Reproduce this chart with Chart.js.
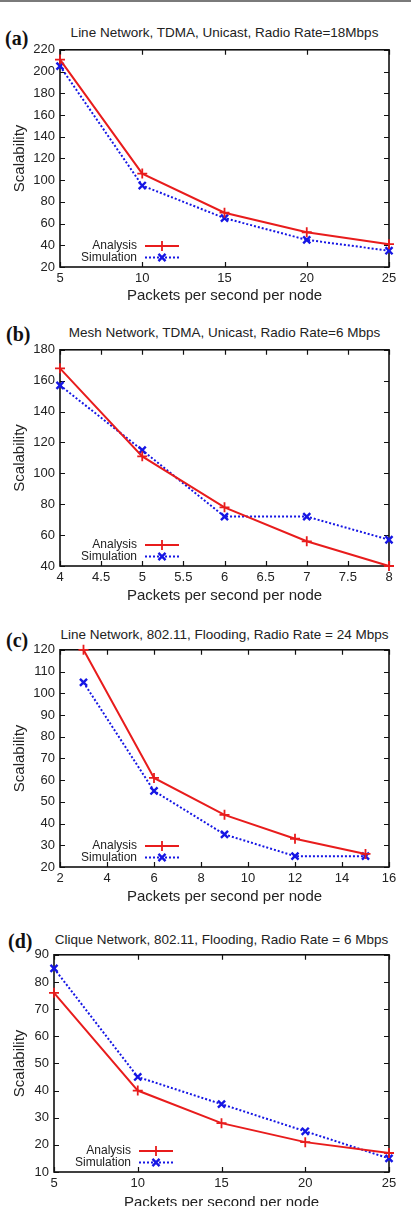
<!DOCTYPE html>
<html>
<head>
<meta charset="utf-8">
<script src="https://cdn.jsdelivr.net/npm/chart.js@4.4.1/dist/chart.umd.min.js"></script>
<style>
body { margin: 0; width: 411px; height: 1206px; overflow: hidden; background: #fff; position: relative; }
.rule { position: absolute; left: 0; top: 0; width: 411px; height: 2px; background: #7a7a7a; }
.tag { position: absolute; font-family: 'Liberation Serif', 'Times New Roman', serif; font-weight: bold; font-size: 20px; line-height: 20px; color: #111; }
.ttl { position: absolute; font-family: 'Liberation Sans', Arial, sans-serif; font-size: 13.5px; line-height: 16px; color: #222; white-space: nowrap; transform: translateX(-50%); }
canvas { position: absolute; left: 0; }
</style>
</head>
<body>
<div class="rule"></div>
<script>
// panel titles and tags
const titles = ["Line Network, TDMA, Unicast, Radio Rate=18Mbps",
    "Mesh Network, TDMA, Unicast, Radio Rate=6 Mbps",
    "Line Network, 802.11, Flooding, Radio Rate = 24 Mbps",
    "Clique Network, 802.11, Flooding, Radio Rate = 6 Mbps"];
const tags = ["(a)", "(b)", "(c)", "(d)"];

// (a)
const rateA = [5, 10, 15, 20, 25];
const analysisA = [211, 106, 70, 52, 41];
const simulationA = [205, 95, 65, 45, 35];
const xTicksA = [5, 25, 5];
const yTicksA = [20, 220, 20];

// (b)
const rateB = [4, 5, 6, 7, 8];
const analysisB = [168, 111, 78, 56, 40];
const simulationB = [157, 115, 72, 72, 57];
const xTicksB = [4, 8, 0.5];
const yTicksB = [40, 180, 20];

// (c)
const rateC = [3, 6, 9, 12, 15];
const analysisC = [120, 61, 44, 33, 26];
const simulationC = [105, 55, 35, 25, 25];
const xTicksC = [2, 16, 2];
const yTicksC = [20, 120, 10];

// (d)
const rateD = [5, 10, 15, 20, 25];
const analysisD = [76, 40, 28, 21, 17];
const simulationD = [85, 45, 35, 25, 15];
const xTicksD = [5, 25, 5];
const yTicksD = [10, 90, 10];

const seriesNames = ["Analysis", "Simulation"];
const xTitle = "Packets per second per node";
const yTitle = "Scalability";

// layout of each plot box on the page
const boxes = [
    { L: 60, R: 389, T: 47, B: 267, xt: 296, tagX: 5, tagY: 28, ttlY: 25 },
    { L: 60, R: 389, T: 347, B: 566, xt: 596, tagX: 6, tagY: 324, ttlY: 325 },
    { L: 60, R: 389, T: 647, B: 867, xt: 897, tagX: 6, tagY: 630, ttlY: 627 },
    { L: 54, R: 389, T: 952, B: 1172, xt: 1203, tagX: 8, tagY: 931, ttlY: 932 }
];

const RED = 'rgb(232,28,28)';
const BLUE = 'rgb(22,22,228)';
const FONT = "'Liberation Sans', Arial, sans-serif";

Chart.defaults.font.family = FONT;
Chart.defaults.color = '#222';

const framePlugin = {
    id: 'frame',
    beforeDatasetsDraw(chart)
    {
        const ctx = chart.ctx;
        const a = chart.chartArea;
        const xs = chart.scales.x, ys = chart.scales.y;
        ctx.save();
        ctx.strokeStyle = '#111';
        ctx.lineWidth = 1.2;
        ctx.beginPath();
        for (let t of xs.ticks)
        {
            let px = Math.round(xs.getPixelForValue(t.value)) + 0.5;
            ctx.moveTo(px, a.bottom); ctx.lineTo(px, a.bottom - 5);
            ctx.moveTo(px, a.top); ctx.lineTo(px, a.top + 5);
        }
        for (let t of ys.ticks)
        {
            let py = Math.round(ys.getPixelForValue(t.value)) + 0.5;
            ctx.moveTo(a.left, py); ctx.lineTo(a.left + 5, py);
            ctx.moveTo(a.right, py); ctx.lineTo(a.right - 5, py);
        }
        ctx.stroke();
        ctx.lineWidth = 1.6;
        ctx.strokeRect(a.left, a.top, a.right - a.left, a.bottom - a.top);
        ctx.restore();
    },
    afterDraw(chart)
    {
        const ctx = chart.ctx;
        const a = chart.chartArea;
        const rows = [a.bottom - 21, a.bottom - 9.5];
        ctx.save();
        ctx.font = '12px ' + FONT;
        ctx.fillStyle = '#222';
        ctx.textAlign = 'right';
        ctx.textBaseline = 'middle';
        chart.data.datasets.forEach((ds, i) =>
        {
            let y = rows[i];
            ctx.fillText(ds.label, a.left + 77, y);
            ctx.strokeStyle = ds.borderColor;
            ctx.lineWidth = ds.borderWidth;
            ctx.setLineDash(ds.borderDash || []);
            ctx.beginPath();
            ctx.moveTo(a.left + 85, y); ctx.lineTo(a.left + 119, y);
            ctx.stroke();
            ctx.setLineDash([]);
            ctx.lineWidth = ds.pointBorderWidth;
            Chart.helpers.drawPoint(ctx, { pointStyle: ds.pointStyle, radius: ds.pointRadius, borderWidth: ds.pointBorderWidth, rotation: 0 }, a.left + 102, y);
        });
        ctx.restore();
    }
};

function makePanel(i, rates, analysis, simulation, xr, yr)
{
    const b = boxes[i];
    const top = b.T - 10;
    const h = b.xt + 11 - top;

    let tag = document.createElement('div');
    tag.className = 'tag';
    tag.style.left = b.tagX + 'px';
    tag.style.top = b.tagY + 'px';
    tag.textContent = tags[i];
    document.body.appendChild(tag);

    let ttl = document.createElement('div');
    ttl.className = 'ttl';
    ttl.style.left = ((b.L + b.R) / 2) + 'px';
    ttl.style.top = b.ttlY + 'px';
    ttl.textContent = titles[i];
    document.body.appendChild(ttl);

    let canvas = document.createElement('canvas');
    canvas.width = 411;
    canvas.height = h;
    canvas.style.top = top + 'px';
    document.body.appendChild(canvas);

    const pts = (ys) => rates.map((x, k) => { return { x: x, y: ys[k] } });

    const config = {
        type: 'line',
        data: {
            datasets: [{
                label: seriesNames[0],
                data: pts(analysis),
                borderColor: RED,
                backgroundColor: RED,
                borderWidth: 2,
                pointStyle: 'cross',
                pointRadius: 5,
                pointBorderWidth: 1.8,
                pointBorderColor: RED,
                tension: 0,
                clip: false
            }, {
                label: seriesNames[1],
                data: pts(simulation),
                borderColor: BLUE,
                backgroundColor: BLUE,
                borderWidth: 2,
                borderDash: [2, 2],
                pointStyle: 'crossRot',
                pointRadius: 5,
                pointBorderWidth: 2.4,
                pointBorderColor: BLUE,
                tension: 0,
                clip: false
            }]
        },
        options: {
            responsive: false,
            animation: false,
            layout: { padding: { top: 10, right: 411 - b.R, bottom: 0, left: 0 } },
            plugins: { legend: { display: false }, tooltip: { enabled: false } },
            scales: {
                x: {
                    type: 'linear',
                    min: xr[0], max: xr[1],
                    grid: { display: false, drawTicks: false },
                    border: { display: false },
                    ticks: { stepSize: xr[2], padding: 4, font: { size: 13 }, color: '#222', maxRotation: 0,
                        callback: (v) => String(Math.round(v * 10) / 10) },
                    title: { display: true, text: xTitle, font: { size: 15 }, color: '#222', padding: { top: 0, bottom: 2 } },
                    afterFit: (s) => { s.height = b.xt + 11 - b.B; }
                },
                y: {
                    min: yr[0], max: yr[1],
                    grid: { display: false, drawTicks: false },
                    border: { display: false },
                    ticks: { stepSize: yr[2], padding: 5, font: { size: 13 }, color: '#222' },
                    title: { display: true, text: yTitle, font: { size: 15 }, color: '#222', padding: { top: 11, bottom: 0 } },
                    afterFit: (s) => { s.width = b.L; }
                }
            }
        },
        plugins: [framePlugin]
    };
    return new Chart(canvas, config);
}

makePanel(0, rateA, analysisA, simulationA, xTicksA, yTicksA);
makePanel(1, rateB, analysisB, simulationB, xTicksB, yTicksB);
makePanel(2, rateC, analysisC, simulationC, xTicksC, yTicksC);
makePanel(3, rateD, analysisD, simulationD, xTicksD, yTicksD);
</script>
</body>
</html>
